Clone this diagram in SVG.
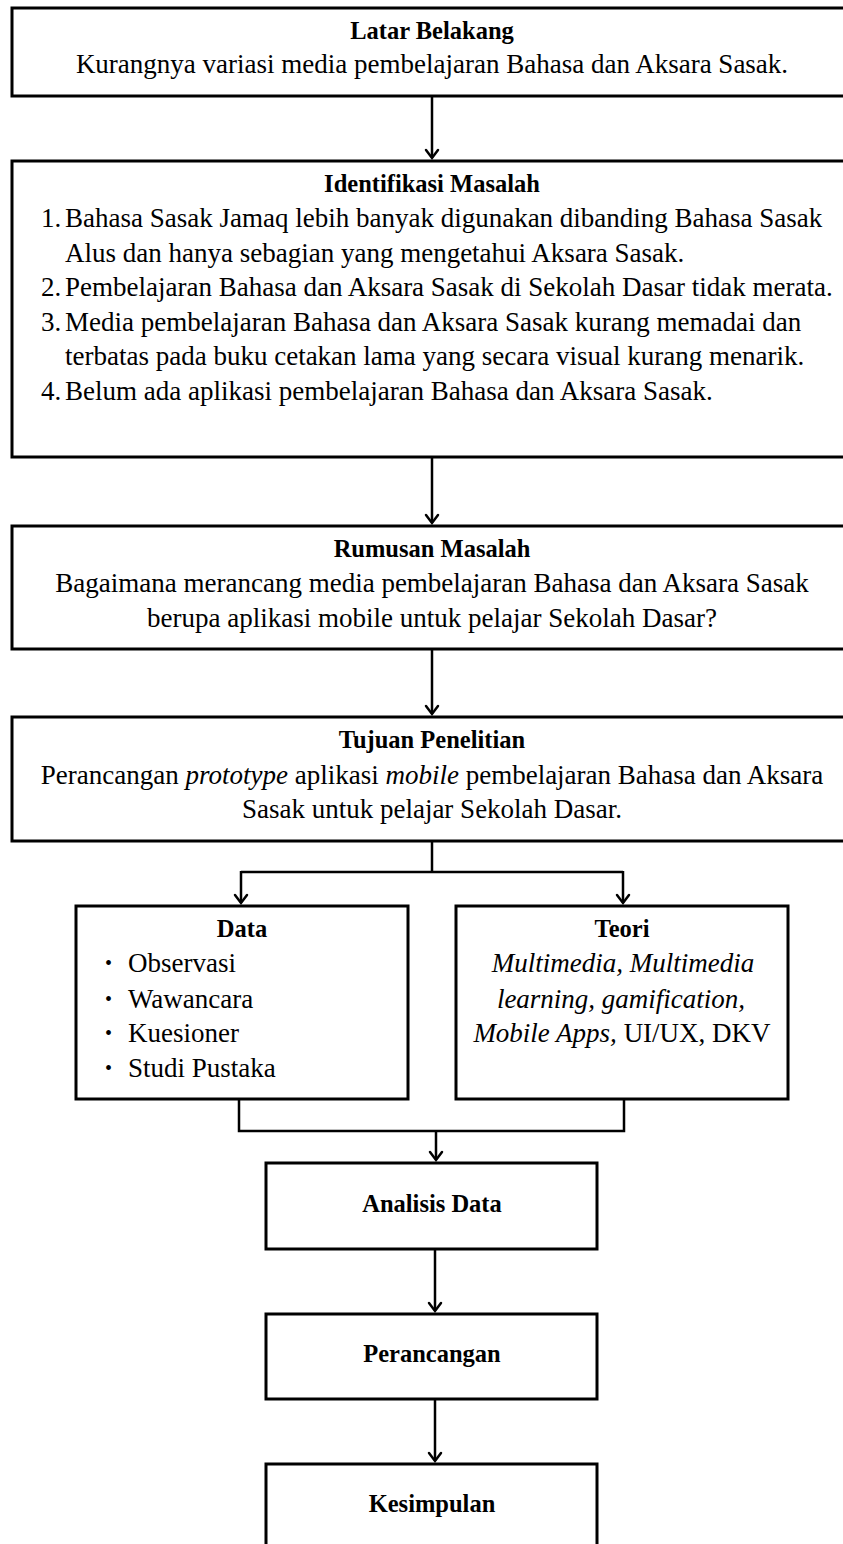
<svg xmlns="http://www.w3.org/2000/svg" width="843" height="1544" viewBox="0 0 843 1544">
<style>
.box{fill:#fff;stroke:#000;stroke-width:3}
.t{font-family:"Liberation Serif","Times New Roman",serif;font-size:27px;fill:#000}
.h{font-family:"Liberation Serif","Times New Roman",serif;font-size:24.5px;font-weight:bold;fill:#000}
.c{text-anchor:middle}
.i{font-style:italic}
.b{font-family:"Liberation Serif","Times New Roman",serif;font-size:20px;fill:#000}
.ln{fill:none;stroke:#000;stroke-width:2.5}
</style>
<defs>
<marker id="ah" markerUnits="userSpaceOnUse" markerWidth="20" markerHeight="20" refX="0" refY="0" orient="auto" viewBox="-12 -10 14 20" overflow="visible">
<path d="M-8,-6 L0,0 L-8,6" fill="none" stroke="#000" stroke-width="2.5" stroke-linecap="round" stroke-linejoin="miter"/>
</marker>
</defs>
<rect width="843" height="1544" fill="#fff"/>

<g id="connectors">
<line class="ln" x1="432" y1="96" x2="432" y2="158" marker-end="url(#ah)"/>
<line class="ln" x1="432" y1="457" x2="432" y2="523" marker-end="url(#ah)"/>
<line class="ln" x1="432" y1="649" x2="432" y2="714" marker-end="url(#ah)"/>
<polyline class="ln" points="432,841 432,872"/>
<polyline class="ln" points="241,872 623,872"/>
<line class="ln" x1="241" y1="871" x2="241" y2="903" marker-end="url(#ah)"/>
<line class="ln" x1="623" y1="871" x2="623" y2="903" marker-end="url(#ah)"/>
<polyline class="ln" points="239,1099 239,1131 624,1131 624,1099"/>
<line class="ln" x1="436" y1="1131" x2="436" y2="1160" marker-end="url(#ah)"/>
<line class="ln" x1="435" y1="1249" x2="435" y2="1311" marker-end="url(#ah)"/>
<line class="ln" x1="435" y1="1399" x2="435" y2="1461" marker-end="url(#ah)"/>
</g>

<g id="latar-belakang">
<rect class="box" x="12" y="8" width="845" height="88"/>
<text class="h c" x="432" y="39">Latar Belakang</text>
<text class="t c" x="432" y="73">Kurangnya variasi media pembelajaran Bahasa dan Aksara Sasak.</text>
</g>

<g id="identifikasi-masalah">
<rect class="box" x="12" y="161" width="845" height="296"/>
<text class="h c" x="432" y="192">Identifikasi Masalah</text>
<text class="t" x="41" y="227">1.</text>
<text class="t" x="65" y="227">Bahasa Sasak Jamaq lebih banyak digunakan dibanding Bahasa Sasak</text>
<text class="t" x="65" y="261.5">Alus dan hanya sebagian yang mengetahui Aksara Sasak.</text>
<text class="t" x="41" y="296">2.</text>
<text class="t" x="65" y="296">Pembelajaran Bahasa dan Aksara Sasak di Sekolah Dasar tidak merata.</text>
<text class="t" x="41" y="330.5">3.</text>
<text class="t" x="65" y="330.5">Media pembelajaran Bahasa dan Aksara Sasak kurang memadai dan</text>
<text class="t" x="65" y="365">terbatas pada buku cetakan lama yang secara visual kurang menarik.</text>
<text class="t" x="41" y="399.5">4.</text>
<text class="t" x="65" y="399.5">Belum ada aplikasi pembelajaran Bahasa dan Aksara Sasak.</text>
</g>

<g id="rumusan-masalah">
<rect class="box" x="12" y="526" width="845" height="123"/>
<text class="h c" x="432" y="557">Rumusan Masalah</text>
<text class="t c" x="432" y="592">Bagaimana merancang media pembelajaran Bahasa dan Aksara Sasak</text>
<text class="t c" x="432" y="627">berupa aplikasi mobile untuk pelajar Sekolah Dasar?</text>
</g>

<g id="tujuan-penelitian">
<rect class="box" x="12" y="717" width="845" height="124"/>
<text class="h c" x="432" y="748">Tujuan Penelitian</text>
<text class="t c" x="432" y="784">Perancangan <tspan class="i">prototype</tspan> aplikasi <tspan class="i">mobile</tspan> pembelajaran Bahasa dan Aksara</text>
<text class="t c" x="432" y="818">Sasak untuk pelajar Sekolah Dasar.</text>
</g>

<g id="data">
<rect class="box" x="76" y="906" width="332" height="193"/>
<text class="h c" x="242" y="937">Data</text>
<text class="b" x="105" y="970">•</text>
<text class="t" x="128" y="972">Observasi</text>
<text class="b" x="105" y="1006">•</text>
<text class="t" x="128" y="1008">Wawancara</text>
<text class="b" x="105" y="1040">•</text>
<text class="t" x="128" y="1042">Kuesioner</text>
<text class="b" x="105" y="1075">•</text>
<text class="t" x="128" y="1077">Studi Pustaka</text>
</g>

<g id="teori">
<rect class="box" x="456" y="906" width="332" height="193"/>
<text class="h c" x="622" y="937">Teori</text>
<text class="t c i" x="623" y="972">Multimedia, Multimedia</text>
<text class="t c i" x="621" y="1008">learning, gamification,</text>
<text class="t c" x="622" y="1042"><tspan class="i">Mobile Apps,</tspan> UI/UX, DKV</text>
</g>

<g id="analisis-data">
<rect class="box" x="266" y="1163" width="331" height="86"/>
<text class="h c" x="432" y="1212">Analisis Data</text>
</g>

<g id="perancangan">
<rect class="box" x="266" y="1314" width="331" height="85"/>
<text class="h c" x="432" y="1362">Perancangan</text>
</g>

<g id="kesimpulan">
<rect class="box" x="266" y="1464" width="331" height="100"/>
<text class="h c" x="432" y="1512">Kesimpulan</text>
</g>
</svg>
